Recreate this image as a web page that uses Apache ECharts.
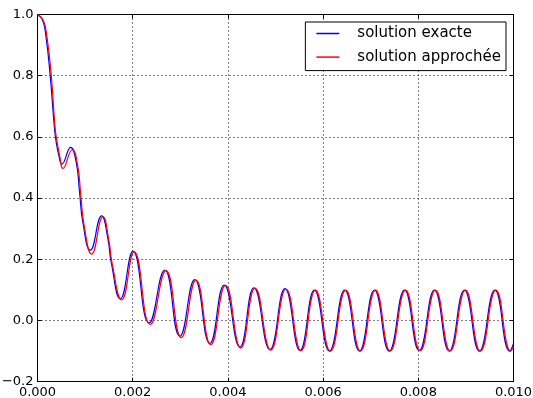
<!DOCTYPE html>
<html>
<head>
<meta charset="utf-8">
<script src="https://cdn.jsdelivr.net/npm/echarts@6/dist/echarts.min.js"></script>
<style>html,body{margin:0;padding:0;background:#fff;}#c{width:533px;height:398px;}</style>
</head>
<body>
<div id="c"></div>
<script>
// exact solution (blue)
var tExact = [0, 0.00011, 0.00018, 0.000267, 0.000358, 0.000393, 0.000449, 0.000512, 0.000695,
  0.000814, 0.000884, 0.000954, 0.00111, 0.001347, 0.00148, 0.00155, 0.00174, 0.002007,
  0.002344, 0.002674, 0.00299, 0.003305, 0.003621, 0.003923, 0.004253, 0.004547, 0.004884, 0.0052,
  0.005516, 0.005818, 0.006133, 0.006456, 0.006765, 0.00708, 0.00739, 0.007712, 0.00802, 0.00834,
  0.00865, 0.00897, 0.009284, 0.00961, 0.009922, 0.01];
var yExact = [1.0, 0.98, 0.925, 0.8, 0.626, 0.583, 0.539, 0.511, 0.566,
  0.517, 0.419, 0.32, 0.23, 0.342, 0.266, 0.189, 0.071, 0.227,
  -0.008, 0.165, -0.051, 0.134, -0.075, 0.116, -0.087, 0.107, -0.095, 0.104,
  -0.098, 0.099, -0.1, 0.099, -0.1, 0.099, -0.1, 0.099, -0.098, 0.099,
  -0.1, 0.099, -0.1, 0.099, -0.1, -0.075];

// approximate solution (red)
var tApprox = [0, 0.00012, 0.0002, 0.00029, 0.00037, 0.00041, 0.00047, 0.000533, 0.00073,
  0.00084, 0.00091, 0.00098, 0.001137, 0.001375, 0.0015, 0.00157, 0.00177, 0.00203,
  0.00237, 0.0027, 0.00302, 0.00333, 0.00364, 0.00395, 0.00427, 0.00457, 0.0049, 0.00522,
  0.005536, 0.005838, 0.006153, 0.006476, 0.006785, 0.0071, 0.00741, 0.007732, 0.00804, 0.00836,
  0.00867, 0.00899, 0.009304, 0.00963, 0.009942, 0.01];
var yApprox = [1.0, 0.982, 0.925, 0.8, 0.63, 0.585, 0.535, 0.497, 0.558,
  0.51, 0.41, 0.31, 0.217, 0.339, 0.262, 0.185, 0.067, 0.224,
  -0.013, 0.163, -0.056, 0.132, -0.079, 0.115, -0.09, 0.106, -0.097, 0.103,
  -0.099, 0.099, -0.1, 0.099, -0.1, 0.099, -0.1, 0.099, -0.099, 0.099,
  -0.1, 0.099, -0.1, 0.099, -0.1, -0.085];

var xTicks = [0, 0.002, 0.004, 0.006, 0.008, 0.010];
var yTicks = [-0.2, 0.0, 0.2, 0.4, 0.6, 0.8, 1.0];
var seriesNames = ['solution exacte', 'solution approchée'];

function pairs(t, y) { return t.map(function (v, i) { return [v, y[i]]; }); }

var font = 'DejaVu Sans';
var chart = echarts.init(document.getElementById('c'), null, { renderer: 'canvas' });
var gridLine = { show: true, lineStyle: { color: '#000', type: [1, 3], width: 1 } };
var axisLine = { show: true, onZero: false, lineStyle: { color: '#000', width: 1 } };
var tickIn = { show: true, inside: true, length: 4, lineStyle: { color: '#000' } };

chart.setOption({
  animation: false,
  backgroundColor: '#fff',
  grid: { left: 37.5, right: 19.5, top: 14.5, bottom: 16.3, containLabel: false, outerBoundsMode: 'none' },
  legend: {
    data: seriesNames,
    orient: 'vertical',
    right: 27,
    top: 22,
    backgroundColor: '#fff',
    borderColor: '#000',
    borderWidth: 1,
    borderRadius: 0,
    padding: [4, 5, 6, 11],
    itemGap: 8.6,
    itemWidth: 23,
    itemHeight: 1.5,
    icon: 'rect',
    textStyle: { fontFamily: font, fontSize: 15, color: '#000', padding: [0, 0, 0, 13] }
  },
  xAxis: [{
    type: 'value', min: xTicks[0], max: xTicks[xTicks.length - 1], interval: 0.002,
    axisLine: axisLine, axisTick: tickIn, splitLine: gridLine,
    axisLabel: { fontFamily: font, fontSize: 13, color: '#000', margin: 4,
      formatter: function (v) { return v.toFixed(3); } }
  }, {
    type: 'value', position: 'top', min: xTicks[0], max: xTicks[xTicks.length - 1], interval: 0.002,
    axisLine: axisLine, axisTick: tickIn, splitLine: { show: false }, axisLabel: { show: false }
  }],
  yAxis: [{
    type: 'value', min: yTicks[0], max: yTicks[yTicks.length - 1], interval: 0.2,
    axisLine: axisLine, axisTick: tickIn, splitLine: gridLine,
    axisLabel: { fontFamily: font, fontSize: 13, color: '#000', margin: 4,
      formatter: function (v) { return v.toFixed(1).replace('-', '\u2212'); } }
  }, {
    type: 'value', position: 'right', min: yTicks[0], max: yTicks[yTicks.length - 1], interval: 0.2,
    axisLine: axisLine, axisTick: tickIn, splitLine: { show: false }, axisLabel: { show: false }
  }],
  series: [{
    name: seriesNames[0], type: 'line', data: pairs(tExact, yExact), showSymbol: false, smooth: 0.5,
    color: '#0000ff', lineStyle: { color: '#0000ff', width: 1.2 }, z: 2
  }, {
    name: seriesNames[1], type: 'line', data: pairs(tApprox, yApprox), showSymbol: false, smooth: 0.5,
    color: '#ff0000', lineStyle: { color: '#ff0000', width: 1.2 }, z: 3
  }]
});
</script>
</body>
</html>
